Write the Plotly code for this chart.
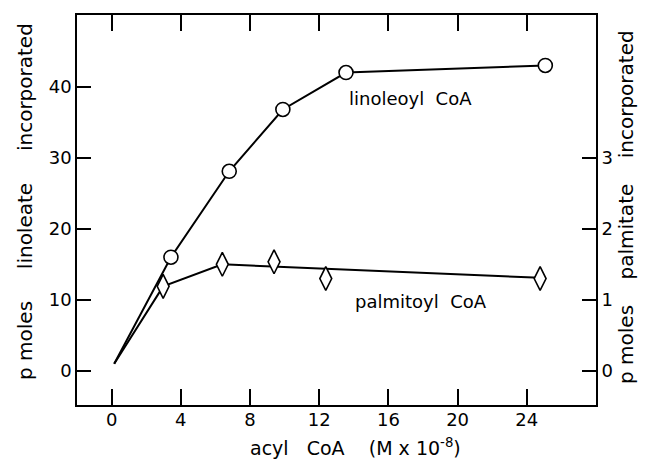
import plotly.graph_objects as go

# Linoleoyl CoA (left axis, p moles linoleate incorporated)
lin_x = [0.15, 3.43, 6.8, 9.9, 13.55, 25.07]
lin_y = [1.0, 16.0, 28.1, 36.8, 42.0, 43.0]
lin_marker_x = lin_x[1:]
lin_marker_y = lin_y[1:]

# Palmitoyl CoA (right axis, p moles palmitate incorporated)
pal_x = [2.98, 6.4, 9.39, 12.38, 24.77]
pal_y = [1.19, 1.50, 1.535, 1.30, 1.30]
# connecting line drawn through start, first two points and last point
pal_line_x = [0.15, 2.98, 6.4, 24.77]
pal_line_y = [0.10, 1.19, 1.50, 1.31]

x_ticks = [0, 4, 8, 12, 16, 20, 24]
y_ticks = [0, 10, 20, 30, 40]
y2_ticks = [0, 1, 2, 3]

FONT = "DejaVu Sans"
W, H = 646, 462
ML, MR, MT, MB = 77, 50, 15, 57
PW, PH = W - ML - MR, H - MT - MB


def px_x(px):
    return (px - ML) / PW


def px_y(py):
    return (H - MB - py) / PH


def gap(n):
    return "\u00a0" * n


fig = go.Figure()
fig.add_trace(go.Scatter(x=lin_x, y=lin_y, mode="lines",
                         line=dict(color="black", width=2), showlegend=False))
fig.add_trace(go.Scatter(x=lin_marker_x, y=lin_marker_y, mode="markers",
                         marker=dict(symbol="circle", size=14, color="white",
                                     line=dict(color="black", width=1.6)),
                         showlegend=False))
fig.add_trace(go.Scatter(x=pal_line_x, y=pal_line_y, mode="lines", yaxis="y2",
                         line=dict(color="black", width=2), showlegend=False))
fig.add_trace(go.Scatter(x=pal_x, y=pal_y, mode="markers", yaxis="y2",
                         marker=dict(symbol="diamond-tall", size=17, color="white",
                                     line=dict(color="black", width=1.6)),
                         showlegend=False))

fig.add_annotation(x=17.25, y=38.4, text="linoleoyl" + gap(2) + "CoA", showarrow=False,
                   xanchor="center", yanchor="middle",
                   font=dict(family=FONT, size=18, color="black"))
fig.add_annotation(x=17.9, y=9.7, text="palmitoyl" + gap(2) + "CoA", showarrow=False,
                   xanchor="center", yanchor="middle",
                   font=dict(family=FONT, size=18, color="black"))

# axis titles
fig.add_annotation(xref="paper", yref="paper", x=px_x(25), y=px_y(202),
                   xanchor="center", yanchor="middle",
                   text="p moles" + gap(5) + "linoleate" + gap(5) + "incorporated",
                   textangle=-90, showarrow=False,
                   font=dict(family=FONT, size=20, color="black"))
fig.add_annotation(xref="paper", yref="paper", x=px_x(626), y=px_y(207),
                   xanchor="center", yanchor="middle",
                   text="p moles" + gap(4) + "palmitate" + gap(4) + "incorporated",
                   textangle=-90, showarrow=False,
                   font=dict(family=FONT, size=20, color="black"))
fig.add_annotation(xref="paper", yref="paper", x=px_x(355), y=px_y(447),
                   xanchor="center", yanchor="middle",
                   text="acyl" + gap(3) + "CoA" + gap(4) + "(M x 10<sup>-8</sup>)",
                   showarrow=False,
                   font=dict(family=FONT, size=19, color="black"))

axis_common = dict(ticks="inside", tickwidth=1.6, tickcolor="black",
                   showline=True, linecolor="black", linewidth=1.6,
                   showgrid=False, zeroline=False,
                   tickfont=dict(family=FONT, size=18, color="black"))

fig.update_layout(
    width=W, height=H,
    margin=dict(l=ML, r=MR, t=MT, b=MB),
    paper_bgcolor="white", plot_bgcolor="white",
    font=dict(family=FONT, size=18, color="black"),
    xaxis=dict(range=[-2, 28], tickvals=x_ticks, ticktext=[str(v) for v in x_ticks],
               ticklen=16, mirror="ticks", ticklabelstandoff=-2, **axis_common),
    yaxis=dict(range=[-4.8, 50.1], tickvals=y_ticks, ticklen=14, **axis_common),
    yaxis2=dict(range=[-0.48, 5.01], tickvals=y2_ticks, overlaying="y", side="right",
                ticklen=14, **axis_common),
)

fig.write_html("out.html", config={"displayModeBar": False},
               post_script="document.body.style.margin='0px';")
